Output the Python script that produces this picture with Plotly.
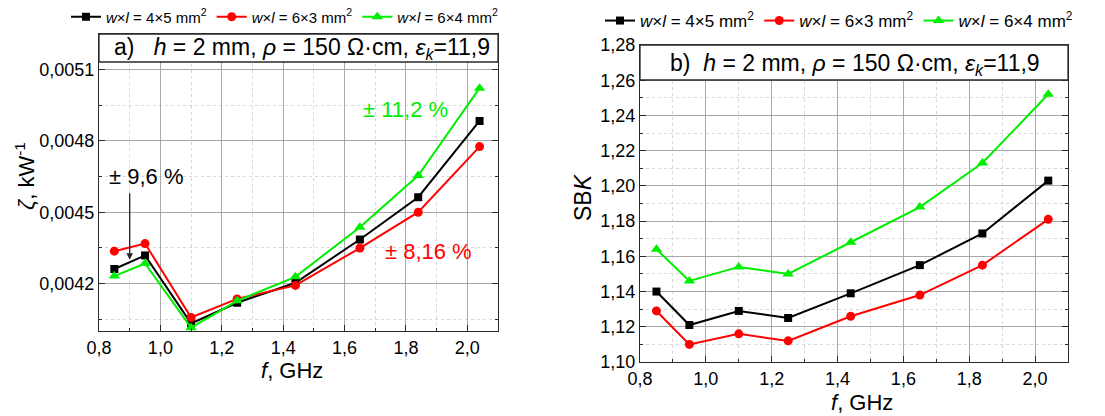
import plotly.graph_objects as go

# ---------------- data ----------------
freq = [0.85, 0.95, 1.10, 1.25, 1.44, 1.65, 1.84, 2.04]

zeta_4x5 = [0.004261, 0.004318, 0.004032, 0.004119, 0.004203, 0.004385, 0.004563, 0.004884]
zeta_6x3 = [0.004336, 0.004368, 0.004057, 0.004135, 0.004192, 0.004349, 0.004500, 0.004776]
zeta_6x4 = [0.004231, 0.004284, 0.004014, 0.004127, 0.004228, 0.004437, 0.004654, 0.005022]

sbk_4x5 = [1.140, 1.121, 1.129, 1.125, 1.139, 1.155, 1.173, 1.203]
sbk_6x3 = [1.129, 1.110, 1.116, 1.112, 1.126, 1.138, 1.155, 1.181]
sbk_6x4 = [1.164, 1.146, 1.154, 1.150, 1.168, 1.188, 1.213, 1.252]

series_names = [
    "<i>w</i>×<i>l</i> = 4×5 mm<sup>2</sup>",
    "<i>w</i>×<i>l</i> = 6×3 mm<sup>2</sup>",
    "<i>w</i>×<i>l</i> = 6×4 mm<sup>2</sup>",
]
series_colors = ["#000000", "#ff0000", "#00ee00"]
series_symbols = ["square", "circle", "triangle-up"]
series_sizes = [8, 9, 10]

left_ticks = [0.0042, 0.0045, 0.0048, 0.0051]
right_ticks = [1.10, 1.12, 1.14, 1.16, 1.18, 1.20, 1.22, 1.24, 1.26, 1.28]
x_ticks = [0.8, 1.0, 1.2, 1.4, 1.6, 1.8, 2.0]

FONT = "Liberation Sans, Arial, sans-serif"
W, H = 1105, 416

fig = go.Figure()

left_data = [zeta_4x5, zeta_6x3, zeta_6x4]
right_data = [sbk_4x5, sbk_6x3, sbk_6x4]

for i in range(3):
    fig.add_trace(go.Scatter(
        x=freq, y=left_data[i], mode="lines+markers", name=series_names[i],
        line=dict(color=series_colors[i], width=2),
        marker=dict(symbol=series_symbols[i], size=series_sizes[i], color=series_colors[i]),
        xaxis="x", yaxis="y", legend="legend"))
for i in range(3):
    fig.add_trace(go.Scatter(
        x=freq, y=right_data[i], mode="lines+markers", name=series_names[i],
        line=dict(color=series_colors[i], width=2),
        marker=dict(symbol=series_symbols[i], size=series_sizes[i], color=series_colors[i]),
        xaxis="x2", yaxis="y2", legend="legend2"))

def ax_common(**kw):
    d = dict(
        automargin=False,
        showline=True, linecolor="#2a2a2a", linewidth=1.3, mirror="ticks",
        ticks="inside", ticklen=6, tickcolor="#2a2a2a", tickwidth=1,
        showgrid=True, gridcolor="#a8a8a8", gridwidth=1, zeroline=False,
        tickfont=dict(size=18, family=FONT, color="black"),
    )
    d.update(kw)
    return d

px = lambda p: p / W
py = lambda p: 1 - p / H

fig.update_layout(
    template="none",
    width=W, height=H, autosize=False,
    margin=dict(l=0, r=0, t=0, b=0, pad=0, autoexpand=False),
    paper_bgcolor="white", plot_bgcolor="white",
    separators=", ",
    font=dict(family=FONT, color="black"),
    xaxis=ax_common(domain=[px(99), px(498)], range=[0.8, 2.1], tickvals=x_ticks,
                    tickformat=".1f", anchor="y",
                    minor=dict(dtick=0.1, tick0=0.8, ticks="inside", ticklen=3, tickcolor="#2a2a2a",
                               showgrid=True, gridcolor="#d8d8d8", griddash="dot")),
    yaxis=ax_common(domain=[py(331), py(34)], range=[0.0040, 0.00525], tickvals=left_ticks,
                    tickformat=".4f", anchor="x",
                    minor=dict(dtick=0.00015, tick0=0.0042, ticks="inside", ticklen=3, tickcolor="#2a2a2a",
                               showgrid=True, gridcolor="#d8d8d8", griddash="dot")),
    xaxis2=ax_common(domain=[px(640), px(1068)], range=[0.8, 2.1], tickvals=x_ticks,
                     tickformat=".1f", anchor="y2",
                     minor=dict(dtick=0.1, tick0=0.8, ticks="inside", ticklen=3, tickcolor="#2a2a2a",
                                showgrid=True, gridcolor="#d8d8d8", griddash="dot")),
    yaxis2=ax_common(domain=[py(362), py(45)], range=[1.10, 1.28], tickvals=right_ticks,
                     tickformat=".2f", anchor="x2",
                     minor=dict(dtick=0.01, tick0=1.10, ticks="inside", ticklen=3, tickcolor="#2a2a2a",
                                showgrid=True, gridcolor="#d8d8d8", griddash="dot")),
    legend=dict(orientation="h", x=px(66), y=py(17), xanchor="left", yanchor="middle",
                font=dict(size=15, family=FONT), bgcolor="rgba(0,0,0,0)",
                itemwidth=30, tracegroupgap=0),
    legend2=dict(orientation="h", x=px(600), y=py(21), xanchor="left", yanchor="middle",
                 font=dict(size=17, family=FONT), bgcolor="rgba(0,0,0,0)",
                 itemwidth=30, tracegroupgap=0),
)

# header boxes inside each plot (above gridlines; data never reaches this band)
fig.add_shape(type="rect", xref="paper", yref="paper", x0=px(99), x1=px(498),
              y0=py(62), y1=py(34), fillcolor="white",
              line=dict(color="#2a2a2a", width=1.3), layer="above")
fig.add_shape(type="rect", xref="paper", yref="paper", x0=px(640), x1=px(1068),
              y0=py(80), y1=py(45), fillcolor="white",
              line=dict(color="#2a2a2a", width=1.3), layer="above")

def note(text, x, y, size, color="black", angle=0):
    fig.add_annotation(text=text, xref="paper", yref="paper", x=px(x), y=py(y),
                       xanchor="center", yanchor="middle", textangle=angle,
                       showarrow=False, font=dict(size=size, family=FONT, color=color))

hdr = "<i>h</i> = 2 mm, <i>ρ</i> = 150 Ω·cm, <i>ε</i><sub><i>k</i></sub>=11,9"
note("a)   " + hdr, 302, 48, 23)
note("b)  " + hdr, 855, 64, 23)

# axis titles
note("<i>ζ</i>, kW<sup>-1</sup>", 25, 176, 22, angle=-90)
note("SB<i>K</i>", 583, 197, 23, angle=-90)
note("<i>f</i>, GHz", 292, 370, 22)
note("<i>f</i>, GHz", 862, 402, 22)

# error labels
note("± 9,6 %", 146, 177, 22)
fig.add_annotation(text="", xref="x", yref="y", x=0.9, y=0.0043, ax=0, ay=-68,
                   showarrow=True, arrowhead=2, arrowsize=1, arrowwidth=1.3, arrowcolor="#222222")
note("± 11,2 %", 405, 109, 22, color="#00ee00")
note("± 8,16 %", 428, 252, 22, color="#ff0000")

fig.write_html("out.html")
